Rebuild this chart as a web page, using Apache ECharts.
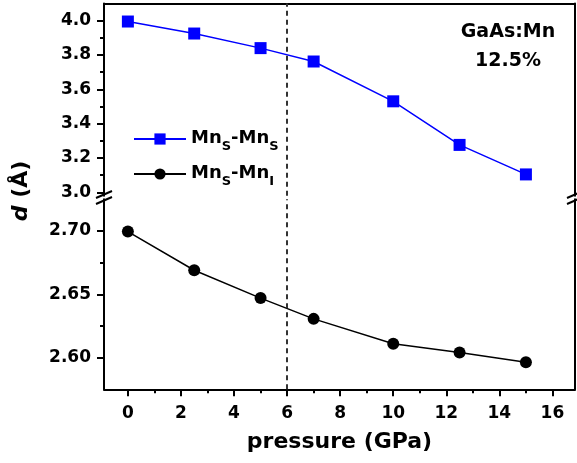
<!DOCTYPE html>
<html>
<head>
<meta charset="utf-8">
<script src="https://cdn.jsdelivr.net/npm/echarts@6/dist/echarts.min.js"></script>
<style>html,body{margin:0;padding:0;background:#fff}#chart{width:577px;height:463px}</style>
</head>
<body>
<div id="chart"></div>
<script>
// pressure (GPa) and Mn-Mn distances (Å)
const pressure = [0, 2.5, 5, 7, 10, 12.5, 15]
const dSS = [3.995, 3.925, 3.84, 3.762, 3.53, 3.276, 3.104]
const dSI = [2.6995, 2.669, 2.647, 2.6306, 2.611, 2.604, 2.5964]
const xTicks = [0, 2, 4, 6, 8, 10, 12, 14, 16]
const xMinor = [1, 3, 5, 7, 9, 11, 13, 15]
const yUpTicks = [3.0, 3.2, 3.4, 3.6, 3.8, 4.0]
const yUpMinor = [3.1, 3.3, 3.5, 3.7, 3.9]
const yLowTicks = [2.60, 2.65, 2.70]
const yLowMinor = [2.625, 2.675]
const markX = 6

const FONT = 'DejaVu Sans'
const axisLineOn = { show: true, onZero: false, lineStyle: { color: '#000', width: 2 } }
const axisLineOff = { show: false, onZero: false }

function xAx(grid, extra) {
  return Object.assign({
    type: 'value', gridIndex: grid, min: -0.9, max: 16.85,
    splitLine: { show: false }, axisLabel: { show: false },
    axisTick: { show: false }, axisLine: axisLineOff
  }, extra)
}
function yAx(grid, min, max, extra) {
  return Object.assign({
    type: 'value', gridIndex: grid, min: min, max: max, scale: true,
    splitLine: { show: false }, axisLabel: { show: false },
    axisTick: { show: false }, axisLine: axisLineOff
  }, extra)
}
function ticks(values, len) {
  return { show: true, customValues: values, length: len, lineStyle: { color: '#000', width: 2 } }
}
function labels(values, digits, margin) {
  return {
    show: true, customValues: values, margin: margin,
    fontFamily: FONT, fontWeight: 'bold', fontSize: 17, color: '#000',
    formatter: (v) => Number(v).toFixed(digits)
  }
}

const dash = {
  silent: true, symbol: 'none', label: { show: false },
  lineStyle: { color: '#333', width: 2, type: [5, 4] },
  emphasis: { disabled: true },
  data: [{ xAxis: markX }]
}

const richText = {
  m: { fontFamily: FONT, fontWeight: 'bold', fontSize: 18, lineHeight: 19, verticalAlign: 'top', color: '#000' },
  s: { fontFamily: FONT, fontWeight: 'bold', fontSize: 13, lineHeight: 13, padding: [15, 0, 0, 0], color: '#000' }
}
const legendNames = {
  'MnS-MnS': '{m|Mn}{s|S}{m|-Mn}{s|S}',
  'MnS-MnI': '{m|Mn}{s|S}{m|-Mn}{s|I}'
}
function legend(name, top) {
  return {
    data: [name], left: 133, top: top, padding: 0,
    itemWidth: 52, itemHeight: 14, itemGap: 6, selectedMode: false,
    formatter: (n) => legendNames[n],
    textStyle: { rich: richText }
  }
}

const chart = echarts.init(document.getElementById('chart'))
chart.setOption({
  animation: false,
  backgroundColor: '#fff',
  grid: [
    { left: 104, right: 2, top: 3.5, height: 192.2 },
    { left: 104, right: 2, top: 199.3, height: 190 }
  ],
  legend: [legend('MnS-MnS', 125), legend('MnS-MnI', 160)],
  xAxis: [
    xAx(0, { position: 'top', axisLine: axisLineOn }),
    xAx(1, {
      position: 'bottom', axisLine: axisLineOn,
      axisTick: ticks(xTicks, 7), axisLabel: labels(xTicks, 0, 16),
      name: 'pressure (GPa)', nameLocation: 'middle', nameGap: 42,
      nameTextStyle: { fontFamily: FONT, fontWeight: 'bold', fontSize: 22, color: '#000' }
    }),
    xAx(1, { position: 'bottom', axisTick: ticks(xMinor, 4) })
  ],
  yAxis: [
    yAx(0, 2.98, 4.1, { position: 'left', axisLine: axisLineOn, axisTick: ticks(yUpTicks, 7), axisLabel: labels(yUpTicks, 1, 13) }),
    yAx(0, 2.98, 4.1, { position: 'left', axisTick: ticks(yUpMinor, 4) }),
    yAx(0, 2.98, 4.1, { position: 'right', axisLine: axisLineOn }),
    yAx(1, 2.575, 2.725, { position: 'left', axisLine: axisLineOn, axisTick: ticks(yLowTicks, 7), axisLabel: labels(yLowTicks, 2, 13) }),
    yAx(1, 2.575, 2.725, { position: 'left', axisTick: ticks(yLowMinor, 4) }),
    yAx(1, 2.575, 2.725, { position: 'right', axisLine: axisLineOn })
  ],
  series: [
    {
      name: 'MnS-MnS', type: 'line', xAxisIndex: 0, yAxisIndex: 0,
      data: pressure.map((p, i) => [p, dSS[i]]),
      symbol: 'rect', symbolSize: 12,
      itemStyle: { color: '#0000ff' }, lineStyle: { color: '#0000ff', width: 1.5 },
      markLine: dash, z: 3
    },
    {
      name: 'MnS-MnI', type: 'line', xAxisIndex: 1, yAxisIndex: 3,
      data: pressure.map((p, i) => [p, dSI[i]]),
      symbol: 'circle', symbolSize: 12,
      itemStyle: { color: '#000' }, lineStyle: { color: '#000', width: 1.5 },
      markLine: dash, z: 3
    }
  ],
  graphic: [
    // axis break marks
    { type: 'line', shape: { x1: 96, y1: 198, x2: 112, y2: 191 }, style: { stroke: '#000', lineWidth: 2 } },
    { type: 'line', shape: { x1: 96, y1: 204, x2: 112, y2: 197 }, style: { stroke: '#000', lineWidth: 2 } },
    { type: 'line', shape: { x1: 567, y1: 198, x2: 583, y2: 191 }, style: { stroke: '#000', lineWidth: 2 } },
    { type: 'line', shape: { x1: 567, y1: 204, x2: 583, y2: 197 }, style: { stroke: '#000', lineWidth: 2 } },
    {
      type: 'text', x: 508, y: 32,
      style: { text: 'GaAs:Mn', font: 'bold 19px "DejaVu Sans"', fill: '#000', align: 'center', verticalAlign: 'middle' }
    },
    {
      type: 'text', x: 508, y: 61,
      style: { text: '12.5%', font: 'bold 19px "DejaVu Sans"', fill: '#000', align: 'center', verticalAlign: 'middle' }
    },
    {
      type: 'text', x: 21, y: 191, rotation: Math.PI / 2,
      style: {
        text: '{i|d} (Å)', align: 'center', verticalAlign: 'middle', fill: '#000',
        font: 'bold 22px "DejaVu Sans"',
        rich: { i: { fontFamily: FONT, fontWeight: 'bold', fontStyle: 'italic', fontSize: 22 } }
      }
    }
  ]
})
</script>
</body>
</html>
